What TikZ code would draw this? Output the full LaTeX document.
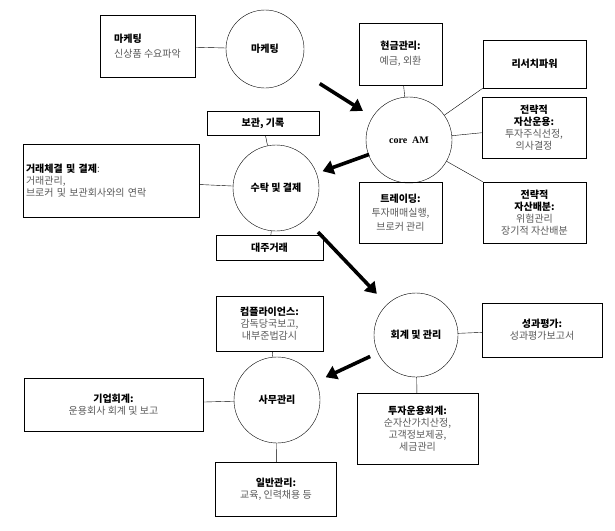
\documentclass[tikz,border=0pt]{standalone}
\usepackage{fontspec}
\setmainfont{Liberation Serif}
\newfontfamily\kr{Noto Sans CJK KR}
\usetikzlibrary{positioning,arrows.meta,calc}
\tikzset{
  hub/.style={draw, circle, minimum size=86pt, inner sep=0pt, font=\kr\bfseries},
  info/.style={draw, align=center, inner sep=2pt, font=\kr\normalsize, text=black!65},
  big/.style={line width=3.6pt, -{Triangle[length=11pt,width=14pt]}},
}
\newcommand{\hd}[1]{{\bfseries\color{black}#1}}
\begin{document}
\begin{tikzpicture}[x=1pt, y=-1pt]
  \useasboundingbox (0,0) rectangle (615,530);
  % circles
  \node[hub, minimum size=78pt] (mkt) at (265,49) {마케팅};
  \node[hub] (core) at (409,140) {\rmfamily core\ \ AM};
  \node[hub] (sut) at (276,188) {수탁 및 결제};
  \node[hub, minimum size=84pt] (acc) at (416,335) {회계 및 관리};
  \node[hub] (adm) at (277,400) {사무관리};
  % boxes
  \node[info, minimum width=95pt, minimum height=62pt, align=left] (bmkt) at (147.5,46) {\hd{마케팅}\\[3pt]신상품 수요파악};
  \node[info, minimum width=83pt, minimum height=62pt] (cash) at (400.5,54) {\hd{현금관리:}\\[3pt]예금, 외환};
  \node[info, minimum width=103pt, minimum height=48pt] (res) at (534.5,64) {\hd{리서치파워}};
  \node[info, minimum width=104pt, minimum height=61pt] (sel) at (534,127.5) {\hd{전략적}\\\hd{자산운용:}\\투자주식선정,\\의사결정};
  \node[info, minimum width=103pt, minimum height=61pt] (alloc) at (534.5,212.5) {\hd{전략적}\\\hd{자산배분:}\\위험관리\\장기적 자산배분};
  \node[info, minimum width=83pt, minimum height=61pt] (trade) at (400.5,212.5) {\hd{트레이딩:}\\[2pt]투자매매실행,\\[2pt]브로커 관리};
  \node[info, minimum width=112pt, minimum height=24pt] (keep) at (263,123) {\hd{보관, 기록}};
  \node[info, minimum width=176pt, minimum height=73pt, align=left, text width=170pt] (exec) at (111,180.5) {\hd{거래체결 및 결제}:\\거래관리,\\브로커 및 보관회사와의 연락};
  \node[info, minimum width=107pt, minimum height=25pt] (lend) at (269.5,247.5) {\hd{대주거래}};
  \node[info, minimum width=107pt, minimum height=55pt] (comp) at (269.5,323.5) {\hd{컴플라이언스:}\\감독당국보고,\\내부준법감시};
  \node[info, minimum width=120pt, minimum height=54pt] (perf) at (542,330) {\hd{성과평가:}\\성과평가보고서};
  \node[info, minimum width=121pt, minimum height=71pt] (invacc) at (417.5,428.5) {\hd{투자운용회계:}\\순자산가치산정,\\고객정보제공,\\세금관리};
  \node[info, minimum width=179pt, minimum height=53pt] (corp) at (113.5,404.5) {\hd{기업회계:}\\운용회사 회계 및 보고};
  \node[info, minimum width=121pt, minimum height=54pt] (gen) at (276,489) {\hd{일반관리:}\\교육, 인력채용 등};
  % links
  \draw (bmkt) -- (mkt);
  \draw (cash) -- (core);
  \draw (res.south west) -- (core);
  \draw (sel) -- (core);
  \draw (alloc.north west) -- (core);
  \draw (trade) -- (core);
  \draw (keep) -- (sut);
  \draw (exec) -- (sut);
  \draw (lend) -- (sut);
  \draw (perf) -- (acc);
  \draw (invacc) -- (acc);
  \draw (comp) -- (adm);
  \draw (corp) -- (adm);
  \draw (gen) -- (adm);
  % flow
  \draw[big] ($(mkt)!0.38!(core)$) -- ($(mkt)!0.68!(core)$);
  \draw[big] ($(core)!0.3!(sut)$) -- ($(core)!0.65!(sut)$);
  \draw[big] ($(sut)!0.3!(acc)$) -- ($(sut)!0.72!(acc)$);
  \draw[big] ($(acc)!0.33!(adm)$) -- ($(acc)!0.65!(adm)$);
\end{tikzpicture}
\end{document}
